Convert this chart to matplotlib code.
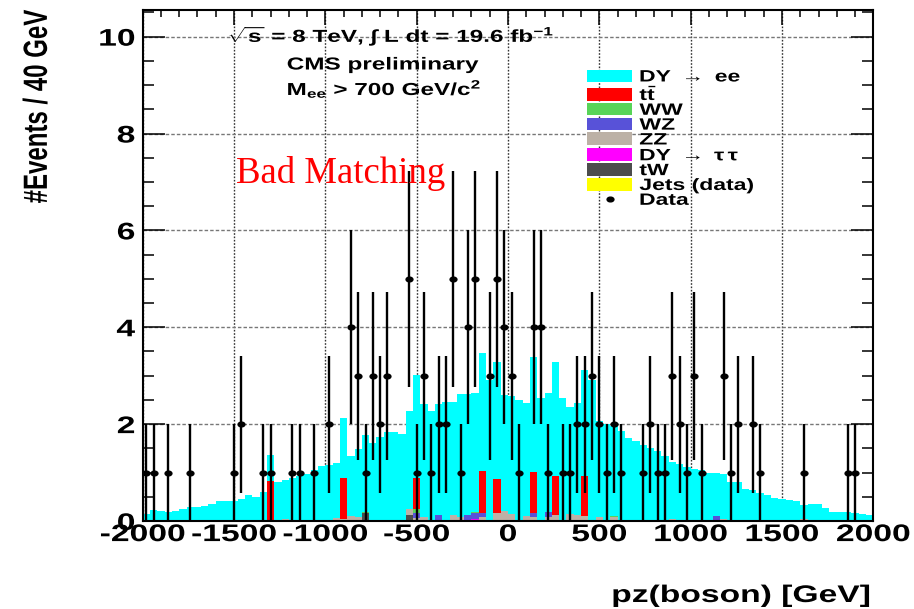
import numpy as np
import matplotlib
matplotlib.use("Agg")
import matplotlib.pyplot as plt
from matplotlib.patheffects import AbstractPathEffect
from matplotlib.transforms import Affine2D
from matplotlib.markers import MarkerStyle
from matplotlib.patches import Patch
from matplotlib.lines import Line2D
from matplotlib.ticker import MultipleLocator

# ---------------------------------------------------------------- data
# pz(boson) histogram, 100 bins of 40 GeV between -2000 and 2000 GeV
data_counts = [1, 1, 0, 1, 0, 0, 1, 0, 0, 0,
               0, 0, 1, 2, 0, 0, 1, 1, 0, 0,
               1, 1, 0, 1, 0, 2, 0, 0, 4, 3,
               1, 3, 2, 3, 0, 0, 5, 1, 3, 1,
               2, 2, 5, 1, 4, 5, 0, 3, 5, 4,
               3, 1, 0, 4, 4, 1, 0, 1, 1, 2,
               2, 3, 2, 1, 2, 1, 0, 0, 1, 2,
               1, 1, 3, 2, 1, 3, 1, 0, 0, 3,
               1, 2, 0, 2, 1, 0, 0, 0, 0, 0,
               1, 0, 0, 0, 0, 0, 1, 1, 0, 0]

dy_ee = [0.14, 0.22, 0.18, 0.18, 0.21, 0.25, 0.28, 0.29, 0.32, 0.35,
         0.38, 0.41, 0.42, 0.46, 0.53, 0.49, 0.60, 0.54, 0.81, 0.80,
         0.88, 0.93, 0.97, 1.05, 1.14, 1.16, 1.14, 1.23, 1.25, 1.41,
         1.58, 1.59, 1.70, 1.82, 1.82, 1.77, 2.02, 2.11, 2.35, 2.24,
         2.30, 2.44, 2.34, 2.53, 2.50, 2.45, 2.45, 2.88, 2.41, 2.40,
         2.44, 2.48, 2.34, 2.38, 2.51, 2.46, 2.35, 2.51, 2.21, 2.32,
         2.20, 2.88, 1.98, 1.98, 1.85, 1.84, 1.68, 1.62, 1.57, 1.50,
         1.44, 1.35, 1.18, 1.18, 1.12, 1.08, 1.06, 1.00, 0.90, 0.93,
         0.81, 0.81, 0.67, 0.64, 0.57, 0.54, 0.48, 0.45, 0.43, 0.42,
         0.28, 0.35, 0.35, 0.26, 0.19, 0.19, 0.19, 0.17, 0.15, 0.12]

# small backgrounds: filled bin indices and their contents
ttbar_bins = [17, 27, 37, 46, 48, 53, 56, 60]
ttbar_vals = [0.80, 0.84, 0.65, 0.85, 0.70, 0.85, 0.80, 0.82]
ww_bins = [30, 37, 45, 64]
ww_vals = [0.03, 0.08, 0.03, 0.02]
wz_bins = [37, 40, 44, 45, 46, 53, 55, 78]
wz_vals = [0.10, 0.10, 0.10, 0.12, 0.10, 0.08, 0.10, 0.10]
zz_bins = [2, 10, 17, 19, 26, 27, 28, 29, 36, 37, 38, 42, 43, 46, 48,
           49, 50, 52, 53, 55, 56, 58, 59, 60, 62, 64, 72, 79, 90]
zz_vals = [0.03, 0.03, 0.03, 0.04, 0.06, 0.05, 0.10, 0.08, 0.12, 0.04,
           0.05, 0.10, 0.06, 0.05, 0.15, 0.18, 0.12, 0.08, 0.05, 0.06,
           0.10, 0.12, 0.10, 0.08, 0.05, 0.06, 0.04, 0.05, 0.05]
dytautau_bins = [45]
dytautau_vals = [0.01]
tw_bins = [30, 36]
tw_vals = [0.14, 0.10]
jets_bins = list(range(30, 68))
jets_vals = [0.020, 0.025, 0.025, 0.025, 0.025, 0.025, 0.025, 0.025, 0.025, 0.025,
             0.025, 0.025, 0.025, 0.025, 0.025, 0.025, 0.025, 0.025, 0.025, 0.025,
             0.025, 0.025, 0.025, 0.025, 0.025, 0.025, 0.025, 0.025, 0.025, 0.025,
             0.025, 0.025, 0.025, 0.025, 0.025, 0.025, 0.025, 0.025]

x_ticks = [-2000, -1500, -1000, -500, 0, 500, 1000, 1500, 2000]
y_ticks = [0, 2, 4, 6, 8, 10]

# ---------------------------------------------------------------- style
plt.rcParams['font.family'] = ['Liberation Sans', 'DejaVu Sans']
plt.rcParams['font.weight'] = 'bold'
plt.rcParams['axes.labelweight'] = 'bold'
plt.rcParams['axes.unicode_minus'] = False
plt.rcParams['mathtext.fontset'] = 'custom'
plt.rcParams['mathtext.rm'] = 'Liberation Sans:bold'
plt.rcParams['mathtext.bf'] = 'Liberation Sans:bold'
plt.rcParams['mathtext.it'] = 'Liberation Sans:bold'
plt.rcParams['mathtext.sf'] = 'Liberation Sans:bold'


class WideText(AbstractPathEffect):
    """Render glyph outlines widened horizontally around an anchor."""

    def __init__(self, sx=1.4, anchor="center"):
        super().__init__()
        self.sx = sx
        self.anchor = anchor

    def draw_path(self, renderer, gc, tpath, affine, rgbFace=None):
        ext = tpath.get_extents(affine)
        if self.anchor == "left":
            x0 = ext.x0
        elif self.anchor == "right":
            x0 = ext.x1
        else:
            x0 = 0.5 * (ext.x0 + ext.x1)
        t = affine + Affine2D().translate(-x0, 0).scale(self.sx, 1.0).translate(x0, 0)
        renderer.draw_path(gc, tpath, t, rgbFace)


SX = 1.4
FS = 17.3
W, H = 914, 609


def fx(px):
    return px / W


def fy(py):
    return 1 - py / H


fig = plt.figure(figsize=(W / 100, H / 100), dpi=100)
ax = fig.add_axes([fx(142.7), fy(521), (873.3 - 142.7) / W, (521 - 10) / H])

edges = np.linspace(-2000, 2000, 101)
centers = 0.5 * (edges[:-1] + edges[1:])


def sparse(bins, vals):
    arr = np.zeros(len(edges) - 1)
    arr[np.asarray(bins, dtype=int)] = vals
    return arr


# stack order: bottom to top
stack = [
    ("Jets (data)", sparse(jets_bins, jets_vals), "#ffff00"),
    ("tW", sparse(tw_bins, tw_vals), "#4d4d4d"),
    (r"DY $\rightarrow\;\tau\,\tau$", sparse(dytautau_bins, dytautau_vals), "#ff00ff"),
    ("ZZ", sparse(zz_bins, zz_vals), "#bcb1a6"),
    ("WZ", sparse(wz_bins, wz_vals), "#5852d8"),
    ("WW", sparse(ww_bins, ww_vals), "#58d458"),
    (r"t$\bar{\mathrm{t}}$", sparse(ttbar_bins, ttbar_vals), "#ff0000"),
    (r"DY $\rightarrow$ ee", np.asarray(dy_ee), "#00ffff"),
]

base = np.zeros(len(edges) - 1)
for label, vals, color in stack:
    top = base + vals
    ax.stairs(top, edges, baseline=base.copy(), fill=True, color=color,
              linewidth=0, zorder=2)
    base = top

counts = np.asarray(data_counts, dtype=float)
has = counts > 0
data_marker = MarkerStyle('o', transform=Affine2D().scale(1.45, 1.0))
ax.errorbar(centers[has], counts[has], yerr=np.sqrt(counts[has]),
            fmt='none', ecolor='black', elinewidth=1.7, capsize=0, zorder=4)
ax.plot(centers[has], counts[has], linestyle='none', marker=data_marker,
        markersize=3.4, color='black', zorder=5)

# axes, ticks, grid
ax.set_xlim(-2000, 2000)
ax.set_ylim(0, 10.55)
ax.set_xticks(x_ticks, labels=[str(v) for v in x_ticks])
ax.set_yticks(y_ticks, labels=[str(v) for v in y_ticks])
ax.xaxis.set_minor_locator(MultipleLocator(100))
ax.yaxis.set_minor_locator(MultipleLocator(0.5))
ax.tick_params(which='both', direction='in', top=True, right=True,
               width=1.1, color='black')
ax.tick_params(axis='x', which='major', length=10.5, labelsize=FS, pad=1.5)
ax.tick_params(axis='x', which='minor', length=5)
ax.tick_params(axis='y', which='major', length=16, labelsize=FS, pad=5.5)
ax.tick_params(axis='y', which='minor', length=8)
for sp in ax.spines.values():
    sp.set_linewidth(1.5)

ax.set_axisbelow(True)
ax.grid(axis='x', which='major', linestyle=(0, (1.2, 1.2)), color='#333333', linewidth=1.0)
ax.grid(axis='y', which='major', linestyle=(0, (2.5, 1.5)), color='#777777', linewidth=1.0)

for lab in ax.get_xticklabels():
    lab.set_path_effects([WideText(SX, "center")])
for lab in ax.get_yticklabels():
    lab.set_path_effects([WideText(SX, "right")])

ax.set_xlabel("pz(boson) [GeV]", fontsize=FS, fontweight='bold', ha='right',
              va='baseline', path_effects=[WideText(SX, "right")])
ax.xaxis.set_label_coords((870 - 142.7) / 730.6, (521 - 602) / 511)
ax.set_ylabel("#Events / 40 GeV", fontsize=FS, fontweight='bold', rotation=90,
              rotation_mode='default', ha='center', va='top',
              path_effects=[WideText(SX, "center")])
ax.yaxis.set_label_coords((37 - 142.7) / 730.6, 1.0)

# header lines
hdr = dict(fontsize=12.5, ha='left', va='baseline', color='black')
fig.text(fx(228), fy(42), r"$\sqrt{\mathrm{s}}$ = 8 TeV, $\int$ L dt = 19.6 fb$^{-1}$",
         path_effects=[WideText(SX, "left")], **hdr)
fig.text(fx(287), fy(69.5), "CMS preliminary",
         path_effects=[WideText(SX, "left")], **hdr)
fig.text(fx(287), fy(95), r"M$_{\mathrm{ee}}$ > 700 GeV/c$^{2}$",
         path_effects=[WideText(SX, "left")], **hdr)

# legend, top entry first
handles = [Patch(facecolor=c, edgecolor='none') for _, _, c in stack[::-1]]
labels = [l for l, _, _ in stack[::-1]]
handles.append(Line2D([], [], linestyle='none', marker=data_marker,
                      markersize=3.4, color='black'))
labels.append("Data")
leg = ax.legend(handles, labels, loc='upper left',
                bbox_to_anchor=(fx(587), fy(68.5)), bbox_transform=fig.transFigure,
                frameon=False, fontsize=11.8, handlelength=2.75, handleheight=0.8,
                handletextpad=0.45, labelspacing=-0.01, borderpad=0.0,
                borderaxespad=0.0)
for t in leg.get_texts():
    t.set_path_effects([WideText(SX, "left")])

fig.text(fx(236), fy(183), "Bad Matching", color='#ff0000',
         family='Liberation Serif', weight='normal', fontsize=26.5,
         ha='left', va='baseline')

fig.savefig("out.png", dpi=100)
